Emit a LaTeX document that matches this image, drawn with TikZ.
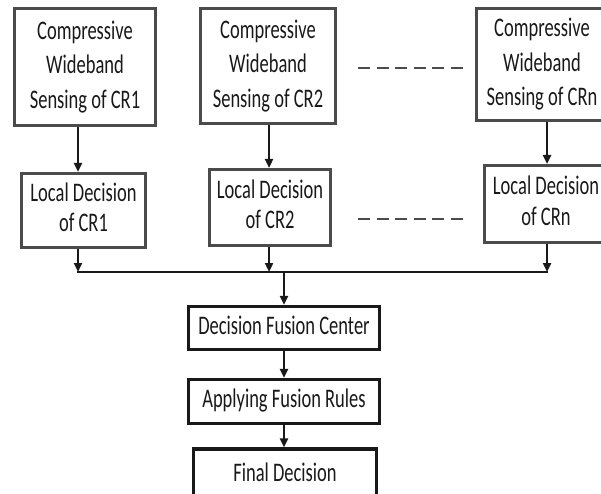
\documentclass[tikz,border=0pt]{standalone}
\usepackage{fontspec}
\usepackage{graphicx}
\setmainfont{Carlito}
\usetikzlibrary{arrows.meta}
\definecolor{boxgray}{RGB}{75,75,75}
\definecolor{txt}{RGB}{25,25,25}
\newcommand{\stretched}[1]{\raisebox{-3pt}{\scalebox{1}[1.45]{\begin{tabular}{@{}c@{}}#1\end{tabular}}}}
\tikzset{
  topbox/.style={draw=boxgray, line width=3.2pt, inner sep=0pt, align=center, text=txt,
    font={\fontsize{18.5}{23.8}\selectfont}},
  locbox/.style={draw=boxgray, line width=3pt, inner sep=0pt, align=center, text=txt,
    font={\fontsize{18.5}{20.7}\selectfont}},
  fusebox/.style={draw=black!90, line width=3.2pt, inner sep=0pt, align=center, text=txt,
    font={\fontsize{18.5}{22}\selectfont}},
  arr/.style={line width=2.5pt, draw=black!90, -{Triangle[length=9pt,width=8pt]}},
  busline/.style={line width=2.8pt, draw=black!90},
  dots/.style={line width=2.8pt, draw=boxgray, dash pattern=on 12pt off 6.6pt}
}
\begin{document}
\begin{tikzpicture}[x=1pt,y=-1pt]
\useasboundingbox (0,0) rectangle (601,494);
\clip (0,0) rectangle (601,494);
% top boxes
\node[topbox, minimum width=141pt, minimum height=117pt] (t1) at (85,67) {\stretched{Compressive\\Wideband\\Sensing of CR1}};
\node[topbox, minimum width=135pt, minimum height=115pt] (t2) at (268,66) {\stretched{Compressive\\Wideband\\Sensing of CR2}};
\node[topbox, minimum width=131pt, minimum height=112pt] (tn) at (542,64.5) {\stretched{Compressive\\Wideband\\Sensing of CRn}};
% local boxes
\node[locbox, minimum width=124pt, minimum height=74pt] (l1) at (83.5,210.5) {\stretched{Local Decision\\of CR1}};
\node[locbox, minimum width=121pt, minimum height=76pt] (l2) at (270,207.5) {\stretched{Local Decision\\of CR2}};
\node[locbox, minimum width=123pt, minimum height=77pt] (ln) at (546,204) {\stretched{Local Decision\\of CRn}};
% fusion boxes
\node[fusebox, minimum width=191pt, minimum height=43pt] (dfc) at (284,328) {\stretched{Decision Fusion Center}};
\node[fusebox, minimum width=191pt, minimum height=44pt] (afr) at (284,401.5) {\stretched{Applying Fusion Rules}};
\node[fusebox, minimum width=183pt, minimum height=52pt] (fd) at (285,475) {\stretched{Final Decision}};
% column x positions
\coordinate (a1) at (78,0);
\coordinate (a2) at (269,0);
\coordinate (an) at (547,0);
\coordinate (am) at (284,0);
\coordinate (bus) at (0,272);
% top -> local
\draw[arr] (t1.south -| a1) -- (l1.north -| a1);
\draw[arr] (t2.south -| a2) -- (l2.north -| a2);
\draw[arr] (tn.south -| an) -- (ln.north -| an);
% local -> bus
\draw[arr] (l1.south -| a1) -- (bus -| a1);
\draw[arr] (l2.south -| a2) -- (bus -| a2);
\draw[arr] (ln.south -| an) -- (bus -| an);
\draw[busline] ([xshift=-1.25pt]bus -| a1) -- ([xshift=1.25pt]bus -| an);
% bus -> fusion chain
\draw[arr] ([yshift=-1pt]bus -| am) -- (dfc.north -| am);
\draw[arr] (dfc.south -| am) -- (afr.north -| am);
\draw[arr] (afr.south -| am) -- (fd.north -| am);
% ellipsis dashes
\coordinate (d1a) at (358,68);
\coordinate (d1b) at (463,68);
\coordinate (d2a) at (358,219);
\coordinate (d2b) at (463,219);
\draw[dots] (d1a) -- (d1b);
\draw[dots] (d2a) -- (d2b);
\end{tikzpicture}
\end{document}
